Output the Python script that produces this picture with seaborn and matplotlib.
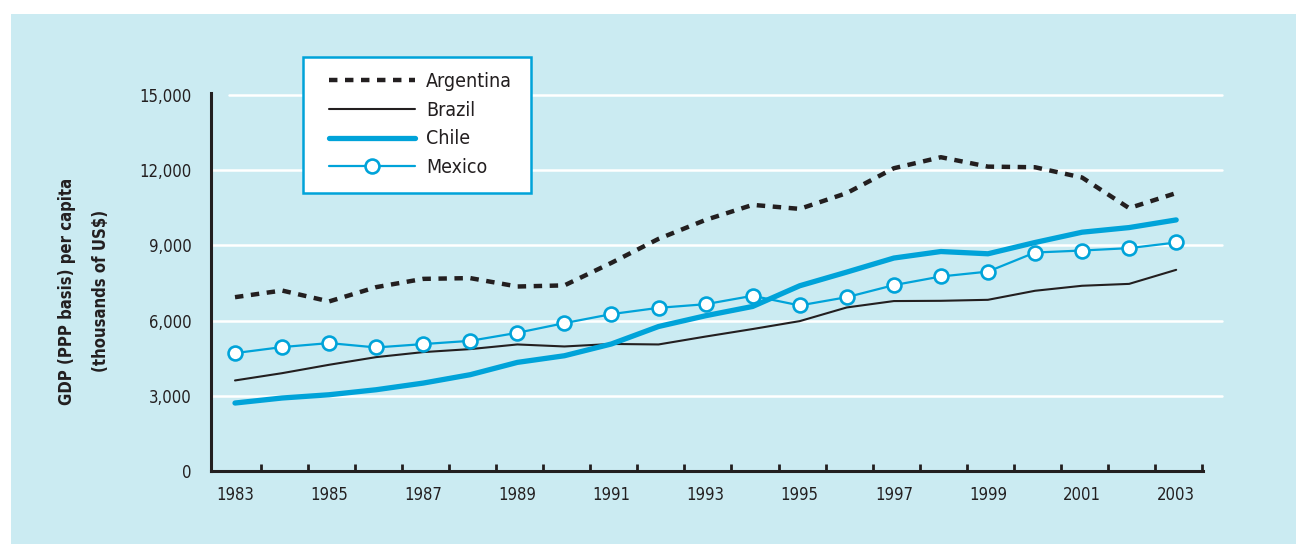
import numpy as np
import pandas as pd
import matplotlib
matplotlib.use("Agg")
import matplotlib.pyplot as plt
from matplotlib.patches import Rectangle
import seaborn as sns

years = list(range(1983, 2004))
argentina = [6930, 7195, 6760, 7330, 7660, 7690, 7355, 7400, 8300, 9255, 10010,
             10610, 10450, 11080, 12070, 12510, 12135, 12110, 11700, 10480, 11080]
brazil = [3610, 3900, 4235, 4540, 4740, 4860, 5045, 4965, 5065, 5045, 5360,
          5660, 5975, 6520, 6775, 6785, 6825, 7185, 7385, 7460, 8020]
chile = [2710, 2910, 3040, 3240, 3505, 3840, 4330, 4595, 5065, 5760, 6190,
         6560, 7385, 7930, 8490, 8750, 8660, 9110, 9520, 9705, 10010]
mexico = [4700, 4940, 5100, 4925, 5060, 5190, 5510, 5895, 6255, 6505, 6650,
          6985, 6600, 6930, 7410, 7755, 7950, 8710, 8790, 8885, 9110]
yticks = [0, 3000, 6000, 9000, 12000, 15000]
ytick_labels = ["0", "3,000", "6,000", "9,000", "12,000", "15,000"]
xtick_years = list(range(1983, 2004, 2))
ylabel = "GDP (PPP basis) per capita\n(thousands of US$)"

BG = "#cbebf2"
CYAN = "#00a3d9"
DARK = "#231f20"
W, H = 1296, 544

sns.set_style("white")
plt.rcParams['font.family'] = ['DejaVu Sans']
plt.rcParams['font.stretch'] = 'condensed'

fig = plt.figure(figsize=(W / 100, H / 100), dpi=100)
fig.patch.set_facecolor("white")
fig.patches.append(Rectangle((11 / W, 0), 1 - 11 / W, 1 - 14 / H,
                             transform=fig.transFigure, facecolor=BG,
                             edgecolor="none", zorder=-10))

ax = fig.add_axes([211 / W, 1 - 471 / H, (1203 - 211) / W, (471 - 93) / H])
ax.set_facecolor("none")

df = pd.DataFrame({"year": years, "Argentina": argentina, "Brazil": brazil,
                   "Chile": chile, "Mexico": mexico})

for v in yticks[1:]:
    ax.axhline(v, xmin=0.0 if v != 15000 else 0.018, xmax=1.019, color="white",
               lw=1.8, clip_on=False, zorder=0)

sns.lineplot(data=df, x="year", y="Argentina", ax=ax, color=DARK, lw=3.2,
             label="Argentina", zorder=3)
sns.lineplot(data=df, x="year", y="Brazil", ax=ax, color=DARK, lw=1.5,
             label="Brazil", zorder=3)
sns.lineplot(data=df, x="year", y="Chile", ax=ax, color=CYAN, lw=3.8,
             label="Chile", zorder=4)
sns.lineplot(data=df, x="year", y="Mexico", ax=ax, color=CYAN, lw=1.6,
             marker="o", markersize=10, markerfacecolor="white",
             markeredgecolor=CYAN, markeredgewidth=1.9, label="Mexico", zorder=5)

arg_line = [l for l in ax.get_lines() if l.get_label() == "Argentina"][0]
arg_line.set_linestyle((0, (1.9, 1.7)))
arg_line.set_dash_capstyle("butt")

ax.set_xlim(1982.49, 2003.57)
ax.set_ylim(0, 15070)
ax.set_xticks(xtick_years)
ax.set_xticklabels([str(y) for y in xtick_years])
ax.set_xticks(np.arange(1983.55, 2004, 1.0), minor=True)
ax.set_yticks(yticks)
ax.set_yticklabels(ytick_labels)
ax.tick_params(axis="x", which="major", length=0, pad=11, labelsize=12,
               colors=DARK)
ax.tick_params(axis="x", which="minor", direction="in", length=5, width=2,
               color=DARK, bottom=True)
ax.tick_params(axis="y", which="major", length=0, pad=14, labelsize=12,
               colors=DARK)
ax.set_xlabel("")
ax.set_ylabel("")
for s in ["top", "right"]:
    ax.spines[s].set_visible(False)
for s in ["left", "bottom"]:
    ax.spines[s].set_color(DARK)
    ax.spines[s].set_linewidth(2.2)
    ax.spines[s].set_zorder(6)

fig.text(84 / W, 1 - 291 / H, ylabel, rotation=90, ha="center", va="center",
         fontsize=12, fontweight="bold", color=DARK, linespacing=2.2)

# legend box drawn as a patch, legend entries without frame on top of it
box = Rectangle((303 / W, 1 - 193 / H), (531 - 303) / W, (193 - 57) / H,
                transform=fig.transFigure, facecolor="white", edgecolor=CYAN,
                lw=1.8, zorder=8, clip_on=False)
ax.add_patch(box)
leg = ax.legend(loc="upper left", bbox_to_anchor=(329 / W, 1 - 72 / H),
                bbox_transform=fig.transFigure, borderaxespad=0,
                fontsize=14, frameon=False, handlelength=4.4,
                handletextpad=0.6, labelspacing=0.5, borderpad=0)
for t in leg.get_texts():
    t.set_color(DARK)
leg.set_zorder(10)

fig.savefig("out.png", dpi=100, facecolor=fig.get_facecolor())
